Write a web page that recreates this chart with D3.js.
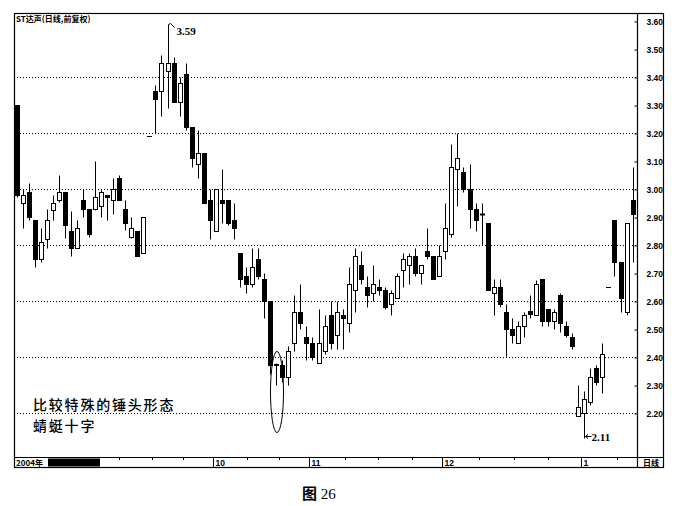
<!DOCTYPE html>
<html><head><meta charset="utf-8">
<script src="https://cdn.jsdelivr.net/npm/d3@7/dist/d3.min.js"></script>
<style>body{margin:0;background:#fff}svg{display:block}</style>
</head><body><svg id="c" width="676" height="506"></svg>
<script>
// ---- data (daily bars, index = trading day slot) ----
const opens  = [3.30,2.95,2.99,2.89,2.75,2.82,2.925,2.96,2.99,2.85,2.79,2.96,2.93,2.93,2.94,2.98,2.96,3.04,2.93,2.83,2.85,2.77,
  3.19,3.35,3.35,3.42,3.45,3.31,3.41,3.22,3.09,3.13,2.96,2.85,2.96,2.96,2.89,
  2.77,2.69,2.66,2.75,2.68,2.60,2.37,2.37,2.33,2.45,2.56,2.47,2.45,2.38,2.42,2.55,2.48,2.55,2.52,2.64,2.73,2.65,2.63,2.65,
  2.64,2.59,2.61,2.71,2.73,2.76,2.70,2.78,2.76,2.69,2.78,2.84,3.07,3.06,3.00,2.93,2.91,2.88,2.63,2.65,2.56,2.50,2.45,2.51,
  2.565,2.55,2.68,2.57,2.53,2.62,2.51,2.47,2.19,2.20,2.24,2.36,2.33,2.65,2.89,2.74,2.56,2.96];
const highs  = [3.30,3.00,3.02,2.89,2.86,2.93,2.98,3.05,2.99,2.92,2.89,3.00,2.93,3.10,3.00,2.98,3.04,3.05,2.96,2.90,2.85,2.90,
  3.19,3.37,3.48,3.59,3.47,3.40,3.45,3.22,3.21,3.13,3.00,3.00,3.07,2.96,2.95,
  2.77,2.72,2.79,2.79,2.70,2.60,2.38,2.39,2.44,2.62,2.66,2.51,2.47,2.57,2.55,2.60,2.60,2.57,2.72,2.79,2.78,2.69,2.73,2.68,
  2.65,2.64,2.70,2.77,2.77,2.79,2.73,2.86,2.76,2.80,2.95,3.16,3.20,3.08,3.09,2.95,2.95,2.88,2.68,2.68,2.59,2.54,2.53,2.56,
  2.62,2.675,2.68,2.57,2.57,2.63,2.53,2.485,2.30,2.28,2.36,2.37,2.45,2.65,2.89,2.74,2.88,3.08];
const lows   = [2.97,2.86,2.89,2.72,2.74,2.79,2.89,2.955,2.825,2.76,2.79,2.90,2.83,2.925,2.90,2.89,2.91,2.96,2.855,2.825,2.76,2.77,
  3.19,3.20,3.26,3.29,3.31,3.26,3.21,3.08,3.04,2.95,2.82,2.85,2.88,2.87,2.82,
  2.65,2.63,2.65,2.68,2.54,2.34,2.30,2.31,2.30,2.42,2.50,2.39,2.39,2.38,2.41,2.43,2.43,2.43,2.49,2.56,2.66,2.58,2.60,2.62,
  2.57,2.55,2.61,2.65,2.66,2.69,2.66,2.75,2.68,2.69,2.75,2.83,2.94,2.99,2.86,2.85,2.80,2.64,2.55,2.58,2.40,2.45,2.45,2.47,
  2.54,2.55,2.51,2.51,2.50,2.49,2.47,2.43,2.19,2.11,2.23,2.30,2.27,2.65,2.69,2.56,2.55,2.74];
const closes = [2.98,2.98,2.90,2.75,2.81,2.89,2.95,2.99,2.87,2.79,2.86,2.93,2.84,2.97,2.99,2.97,3.00,2.96,2.88,2.86,2.76,2.90,
  3.19,3.32,3.45,3.45,3.31,3.38,3.22,3.11,3.13,2.95,2.89,3.00,2.95,2.88,2.86,
  2.68,2.66,2.72,2.69,2.60,2.37,2.375,2.33,2.42,2.56,2.52,2.45,2.40,2.45,2.51,2.45,2.56,2.54,2.66,2.76,2.68,2.62,2.66,2.64,
  2.58,2.63,2.69,2.75,2.76,2.70,2.73,2.76,2.68,2.76,2.86,3.08,3.11,3.00,2.93,2.89,2.91,2.64,2.65,2.59,2.50,2.48,2.51,2.55,
  2.555,2.66,2.53,2.53,2.56,2.52,2.48,2.44,2.22,2.25,2.33,2.31,2.41,2.65,2.74,2.61,2.88,2.91];

const yTickValues = [3.60,3.50,3.40,3.30,3.20,3.10,3.00,2.90,2.80,2.70,2.60,2.50,2.40,2.30,2.20];
const gridValues  = [3.40,3.20,3.00,2.80,2.60,2.40,2.20];
const monthLabels = ["10","11","12","1"];
const monthStarts = [33,49,71,94];
const minorTicks  = [17.5,22.9,28.1,38.7,43.9,54.9,60.4,65.9,77.1,82.8,88.5,99.9];
const yearLabel = "2004年";
const title = "ST达声(日线,前复权)";
const noteLines = ["比较特殊的锤头形态","蜻蜓十字"];
const hammerIndex = 43;
const maxIndex = 25, minIndex = 94;

// ---- layout ----
const L = 14, R = 637, T = 13, B = 457, AX = 663, SB = 467;
const svg = d3.select("#c");
const n = opens.length;
const x = d3.scaleBand().domain(d3.range(n)).range([13.5, 635.6]).padding(0);
const y = d3.scaleLinear().domain([2.2, 3.4]).range([413, 77]);
const cx = i => Math.round(x(i) + x.bandwidth()/2) + 0.5;
const py = v => Math.round(y(v)) + 0.5;

// gridlines
svg.append("g").selectAll("line").data(gridValues).join("line")
  .attr("x1", L).attr("x2", R).attr("y1", d => py(d)).attr("y2", d => py(d))
  .attr("stroke", "#000").attr("stroke-width", 1).attr("stroke-dasharray", "1,2");

// candles
const g = svg.append("g");
d3.range(n).forEach(i => {
  const o = opens[i], h = highs[i], l = lows[i], c = closes[i];
  const xc = cx(i);
  if (h === l) {
    g.append("line").attr("x1", xc - 2.5).attr("x2", xc + 2.5).attr("y1", py(o)).attr("y2", py(o)).attr("stroke", "#000");
    return;
  }
  g.append("line").attr("x1", xc).attr("x2", xc).attr("y1", py(h)).attr("y2", py(l)).attr("stroke", "#000");
  const top = Math.min(py(o), py(c)), bot = Math.max(py(o), py(c));
  if (bot - top < 1) {
    g.append("line").attr("x1", xc - 2.5).attr("x2", xc + 2.5).attr("y1", top).attr("y2", top).attr("stroke", "#000").attr("stroke-width", 2);
  } else {
    g.append("rect").attr("x", xc - 2).attr("y", top).attr("width", 4).attr("height", bot - top)
      .attr("fill", c >= o ? "#fff" : "#000").attr("stroke", "#000").attr("stroke-width", 1);
  }
});

// frame
const frame = svg.append("g").attr("stroke", "#000").attr("fill", "none");
frame.append("rect").attr("x", L + 0.5).attr("y", T + 0.5).attr("width", AX - L).attr("height", SB - T).attr("stroke-width", 1.2);
frame.append("line").attr("x1", R + 0.5).attr("x2", R + 0.5).attr("y1", T).attr("y2", SB).attr("stroke-width", 1.2);
frame.append("line").attr("x1", L).attr("x2", AX).attr("y1", B + 0.5).attr("y2", B + 0.5).attr("stroke-width", 1.2);

// right axis
const yAxis = d3.axisRight(y).tickValues(yTickValues).tickFormat(d3.format(".2f")).tickSizeInner(-3).tickSizeOuter(0).tickPadding(9);
const ga = svg.append("g").attr("transform", `translate(${R + 0.5},0.5)`).call(yAxis);
ga.select(".domain").remove();
ga.selectAll("text").attr("font-family", "Liberation Sans, Arial, sans-serif").attr("font-size", 8.5).attr("font-weight", "bold").attr("fill", "#000");

// bottom strip
const axisFont = "Liberation Sans, Arial, sans-serif";
svg.append("text").attr("x", L + 2).attr("y", B + 8.5).text(yearLabel)
  .attr("font-family", "Noto Sans CJK SC, sans-serif").attr("font-size", 8).attr("font-weight", "bold");
svg.append("rect").attr("x", 48).attr("y", B + 1.5).attr("width", 52).attr("height", 8).attr("fill", "#000");
const mx = i => Math.round(x(i)) + 0.5;
svg.append("g").selectAll("line").data(monthStarts).join("line")
  .attr("x1", d => mx(d)).attr("x2", d => mx(d)).attr("y1", B).attr("y2", SB).attr("stroke", "#000");
svg.append("g").selectAll("text").data(monthStarts).join("text")
  .attr("x", d => mx(d) + 2).attr("y", B + 8.5).text((d, k) => monthLabels[k])
  .attr("font-family", axisFont).attr("font-size", 8.5).attr("font-weight", "bold");
svg.append("g").selectAll("line").data(minorTicks).join("line")
  .attr("x1", d => Math.round(x(0) + d * x.step()) + 0.5).attr("x2", d => Math.round(x(0) + d * x.step()) + 0.5)
  .attr("y1", B).attr("y2", B + 3).attr("stroke", "#000");
svg.append("text").attr("x", (R + AX) / 2 + 1).attr("y", B + 8.5).attr("text-anchor", "middle").text("日线")
  .attr("font-family", "Noto Sans CJK SC, sans-serif").attr("font-size", 8).attr("font-weight", "bold");

// title
svg.append("text").attr("x", L + 2).attr("y", T + 9).text(title)
  .attr("font-family", "Noto Sans CJK SC, sans-serif").attr("font-size", 8).attr("font-weight", "bold");

// max / min labels
const serif = "Liberation Serif, Times New Roman, serif";
const mxX = cx(maxIndex), mxY = py(highs[maxIndex]);
svg.append("path").attr("d", `M${mxX},${mxY} L${mxX + 2},${mxY - 1} L${mxX + 6},${mxY + 3}`).attr("fill", "none").attr("stroke", "#000");
svg.append("text").attr("x", mxX + 8).attr("y", mxY + 10).text(highs[maxIndex].toFixed(2))
  .attr("font-family", serif).attr("font-size", 11).attr("font-weight", "bold");
const mnX = cx(minIndex), mnY = py(lows[minIndex]);
svg.append("path").attr("d", `M${mnX + 1},${mnY - 2} L${mnX + 7},${mnY - 2} M${mnX + 1},${mnY - 2} l2.5,-2 M${mnX + 1},${mnY - 2} l2.5,2`).attr("fill", "none").attr("stroke", "#000");
svg.append("text").attr("x", mnX + 7).attr("y", mnY + 2).text(lows[minIndex].toFixed(2))
  .attr("font-family", serif).attr("font-size", 11).attr("font-weight", "bold");

// hammer ellipse
svg.append("ellipse").attr("cx", cx(hammerIndex) + 0.5).attr("cy", (y(2.42) + y(2.13)) / 2)
  .attr("rx", 6.5).attr("ry", (y(2.13) - y(2.42)) / 2).attr("fill", "none").attr("stroke", "#000").attr("stroke-width", 1);

// note lines
svg.append("g").selectAll("text").data(noteLines).join("text")
  .attr("x", 33).attr("y", (d, k) => 410 + k * 21).text(d => d)
  .attr("font-family", "Noto Sans CJK SC, sans-serif").attr("font-size", 14).attr("letter-spacing", 1.8)
  .attr("font-weight", 500).attr("fill", "#000");

// caption
const cap = svg.append("text").attr("x", 302).attr("y", 499).attr("font-size", 15);
cap.append("tspan").text("图").attr("font-family", "Noto Sans CJK SC, sans-serif").attr("font-weight", "bold");
cap.append("tspan").text(" 26").attr("font-family", serif);
</script></body></html>
